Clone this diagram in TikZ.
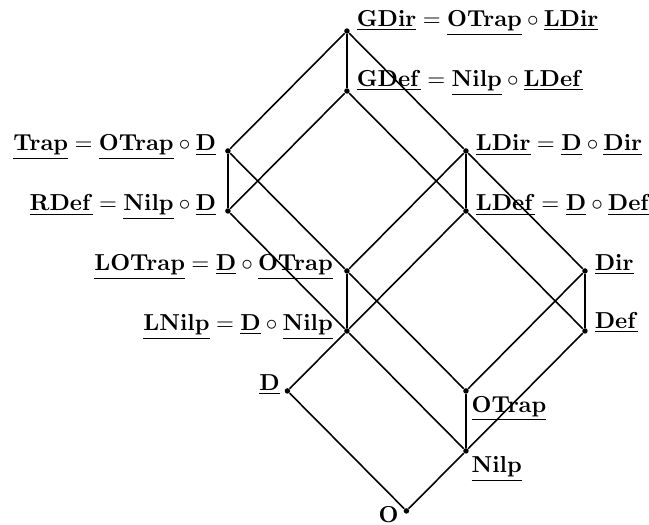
\documentclass[tikz,border=0pt]{standalone}
\newcommand{\pv}[1]{\underline{\mathbf{#1}}}
\begin{document}
\begin{tikzpicture}
    [x=0.992cm, y=1cm,
     place/.style={circle, fill=black,
       inner sep=0pt, minimum size=2.6pt},
     lbl/.style={inner sep=0pt, font=\fontsize{11}{13}\selectfont},
     every label/.style={lbl}]
    \useasboundingbox (-3.83,-0.233) rectangle (7.076,8.517);

    % bottom of the lattice
    \node[place, label={[anchor=base east, label distance=2pt, yshift=-5.5pt]west:$\mathbf{O}$}] (O) at (3,0) {};
    \node[place, label={[anchor=base east, label distance=2pt]west:$\pv{D}$}] (D) at (1,2) {};
    \node[place, label={[anchor=north west, label distance=2pt]south east:$\pv{Nilp}$}] (Nilp) at (4,1) {};
    \node[place, label={[anchor=north west, label distance=2pt]south east:$\pv{OTrap}$}] (OTrap) at (4,2) {};
    \node[place, label={[anchor=base east, label distance=5pt]west:$\pv{LNilp} = \pv{D} \circ \pv{Nilp}$}] (LNilp) at (2,3) {};
    \node[place, label={[anchor=base east, label distance=5pt]west:$\pv{LOTrap} = \pv{D} \circ \pv{OTrap}$}] (LOTrap) at (2,4) {};
    \node[place, label={[anchor=base west, label distance=3pt, yshift=1pt]east:$\pv{Def}$}] (Def) at (6,3) {};
    \node[place, label={[anchor=base west, label distance=3pt]east:$\pv{Dir}$}] (Dir) at (6,4) {};
    % middle
    \node[place, label={[anchor=base east, label distance=4pt]west:$\pv{RDef} = \pv{Nilp} \circ \pv{D}$}] (RDef) at (0,5) {};
    \node[place, label={[anchor=base east, label distance=4pt]west:$\pv{Trap} = \pv{OTrap} \circ \pv{D}$}] (Trap) at (0,6) {};
    \node[place, label={[anchor=base west, label distance=3pt]east:$\pv{LDef} = \pv{D} \circ \pv{Def}$}] (LDef) at (4,5) {};
    \node[place, label={[anchor=base west, label distance=3pt]east:$\pv{LDir} = \pv{D} \circ \pv{Dir}$}] (LDir) at (4,6) {};
    % top
    \node[place, label={[anchor=base west, label distance=3pt, yshift=2pt]east:$\pv{GDef} = \pv{Nilp} \circ \pv{LDef}$}] (GDef) at (2,7) {};
    \node[place, label={[anchor=base west, label distance=3pt, yshift=2pt]east:$\pv{GDir} = \pv{OTrap} \circ \pv{LDir}$}] (GDir) at (2,8) {};

    \foreach \a/\b in {O/D, O/Nilp, D/LNilp, Nilp/LNilp, Nilp/OTrap, Nilp/Def,
      OTrap/LOTrap, OTrap/Dir, Def/Dir, Def/LDef, Dir/LDir,
      LNilp/LOTrap, LNilp/RDef, LNilp/LDef, LOTrap/Trap, LOTrap/LDir,
      RDef/Trap, RDef/GDef, LDef/LDir, LDef/GDef,
      Trap/GDir, LDir/GDir, GDef/GDir}
    {
      \draw[line width=0.75pt] (\a) -- (\b);
    }
\end{tikzpicture}
\end{document}
